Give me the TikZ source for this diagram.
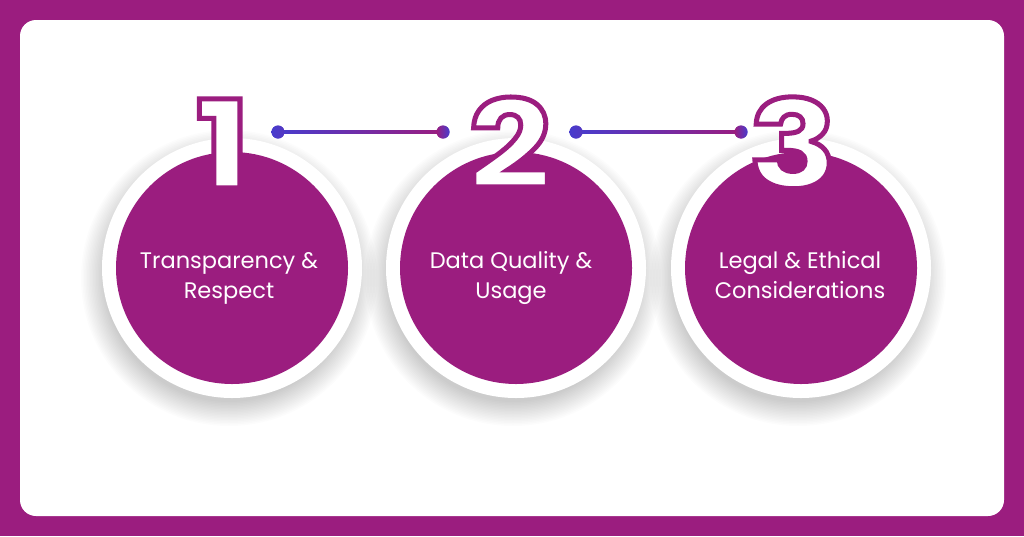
\documentclass[tikz,border=0pt]{standalone}
\usepackage{fontspec}
\setmainfont{Poppins}
\newfontfamily\digitfont{Poppins}[FakeStretch=1.2]
\definecolor{purp}{RGB}{155,29,127}
\definecolor{dotblue}{RGB}{72,60,205}
\newcommand{\outlinedigit}[1]{\special{pdf:literal direct 0.608 0.114 0.498 RG 5 w 2 Tr}#1\special{pdf:literal direct 0 Tr}}
\begin{document}
\begin{tikzpicture}[x=1pt,y=-1pt,
  ring/.style={circle, fill=white, minimum size=260pt, inner sep=0pt},
  disc/.style={circle, fill=purp, minimum size=232pt, inner sep=0pt},
  softshadow/.style={fill=black, opacity=0.011},
  labeltext/.style={text=white, align=center, font=\fontsize{22.5}{30}\selectfont, inner sep=0pt},
  digit/.style={text=white, font=\fontsize{122}{122}\selectfont\digitfont\bfseries, inner sep=0pt},
  dotl/.style={circle, minimum size=13pt, inner sep=0pt, shading=axis, left color=dotblue, right color=dotblue!85!purp},
  dotr/.style={circle, minimum size=13pt, inner sep=0pt, shading=axis, left color=purp, right color=dotblue}]
\useasboundingbox (0,0) rectangle (1024,536);
\fill[purp] (0,0) rectangle (1024,536);
\fill[white, rounded corners=16pt] (20,20) rectangle (1004,516);
% soft shadows
\foreach \cx in {232,516,801}{
  \foreach \k in {0,...,16}{
    \fill[softshadow] (\cx-3,278) circle ({124+\k*1.5});
  }
}
% circles
\node[ring] (r1) at (232,268) {};
\node[ring] (r2) at (516,268) {};
\node[ring] (r3) at (801,268) {};
\node[disc] (c1) at (232,268) {};
\node[disc] (c2) at (516,268) {};
\node[disc] (c3) at (801,268) {};
% labels
\node[labeltext] (t1) at (229,277) {Transparency \&\strut\\Respect\strut};
\node[labeltext] (t2) at (511,277) {Data Quality \&\strut\\Usage\strut};
\node[labeltext] (t3) at (800,277) {Legal \& Ethical\strut\\Considerations\strut};
% digits
\node[digit, anchor=base] (n1) at (223,188) {\outlinedigit{1}};
\node[digit, anchor=base] (n2) at (510,188) {\outlinedigit{2}};
\node[digit, anchor=base] (n3) at (793,188) {\outlinedigit{3}};
% connectors
\node[dotl] (d1) at (278,132) {};
\node[dotr] (d2) at (443,132) {};
\node[dotl] (d3) at (576,132) {};
\node[dotr] (d4) at (741,132) {};
\shade[left color=dotblue, right color=purp] ([yshift=1.5pt]d1.center) rectangle ([yshift=-1.5pt]d2.center);
\shade[left color=dotblue, right color=purp] ([yshift=1.5pt]d3.center) rectangle ([yshift=-1.5pt]d4.center);
\node[dotl] at (d1) {};
\node[dotr] at (d2) {};
\node[dotl] at (d3) {};
\node[dotr] at (d4) {};
\end{tikzpicture}
\end{document}
